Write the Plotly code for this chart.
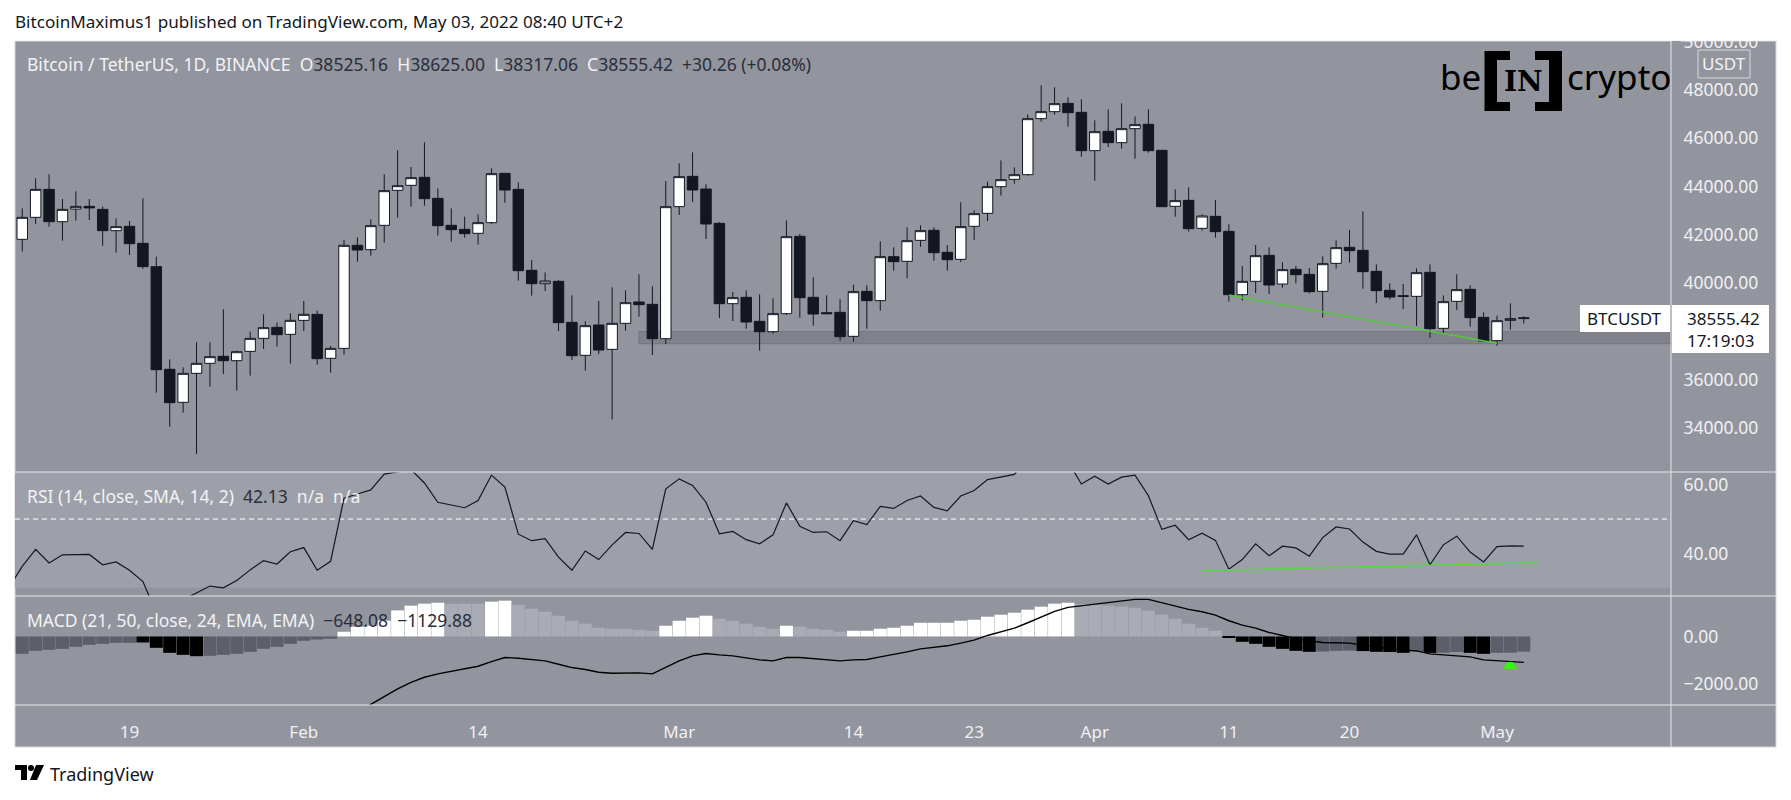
import plotly.graph_objects as go
from plotly.subplots import make_subplots
import pandas as pd

W, H = 1791, 800

dates = pd.date_range("2022-01-11", periods=113, freq="D")

# daily candles
opens = [41810, 42722, 43882, 42542, 43067, 43177, 43053, 42169, 42349, 41644, 40677, 36422, 35054, 36256, 36670, 36960, 36780, 37167, 37706, 38162,
         37872, 38452, 38701, 36878, 37291, 41561, 41382, 42390, 43841, 44048, 44380, 43509, 42390, 42224, 42059, 42501, 44546, 43882, 40525, 39972,
         40069, 38370, 37002, 38259, 37250, 38328, 39212, 39116, 37692, 43164, 44421, 43896, 42473, 39143, 39406, 38411, 37983, 38729, 41934, 39406,
         38770, 38784, 37789, 39654, 39268, 41091, 40898, 41768, 42183, 41271, 40981, 42349, 42888, 43993, 44297, 44490, 46812, 47102, 47447, 47074,
         45485, 46287, 45817, 46397, 46577, 45499, 43178, 43426, 42266, 42763, 42142, 39516, 40069, 41147, 39958, 40566, 40359, 39654, 40815, 41478,
         41354, 40483, 39696, 39472, 39447, 40442, 38121, 39240, 39737, 38577, 37610, 38452, 38525.16]
highs = [43095, 44339, 44504, 43482, 43800, 43482, 43164, 42680, 42570, 43510, 41091, 36836, 36504, 37540, 37540, 38908, 37196, 37983, 38701, 38369,
         38743, 39254, 38853, 37388, 41782, 41893, 42639, 44504, 45499, 44808, 45831, 43924, 43095, 42750, 42846, 44753, 44546, 44173, 40953, 40442,
         40124, 39489, 38411, 39254, 39820, 39696, 40359, 39862, 44228, 44960, 45416, 44090, 42528, 39627, 39696, 39530, 39364, 42597, 42031, 40235,
         39489, 39323, 39931, 39903, 41727, 41478, 42307, 42390, 42307, 41575, 43344, 43012, 44200, 45085, 44794, 46991, 48193, 48110, 47696, 47613,
         46743, 47199, 47447, 46908, 47199, 45499, 43882, 43965, 42846, 43440, 42432, 40705, 41575, 41478, 40856, 40705, 40622, 41105, 41768, 42197,
         42971, 40774, 39986, 39959, 40608, 40774, 39489, 40359, 39903, 38784, 38646, 39157, 38625.00]
lows = [41299, 42446, 42335, 41755, 42584, 42611, 41547, 41257, 41161, 40594, 35454, 34045, 34625, 32912, 35703, 36228, 35537, 36159, 37264, 37361,
        36656, 38010, 36615, 36283, 37029, 40884, 41133, 41672, 42708, 43164, 43205, 41962, 41713, 41879, 41589, 42446, 43330, 40096, 39475, 39668,
        38010, 36808, 36366, 37057, 34349, 38024, 38604, 37015, 37471, 42819, 43357, 41824, 38549, 38425, 38107, 37195, 37900, 38674, 38563, 38231,
        38701, 37609, 37568, 38107, 38853, 40511, 40193, 41506, 40926, 40511, 40870, 41782, 42570, 43620, 44117, 44449, 46687, 46977, 46480, 45237,
        44242, 45637, 45568, 45154, 45402, 43164, 42749, 42128, 42169, 41879, 39226, 39267, 39585, 39544, 39807, 39986, 39572, 38563, 40594, 40843,
        39765, 39170, 39323, 38922, 38218, 37734, 37886, 38881, 38190, 37568, 37402, 38066, 38317.06]
closes = [42722, 43882, 42542, 43053, 43177, 43113, 42169, 42335, 41630, 40677, 36408, 35040, 36256, 36670, 36946, 36780, 37153, 37706, 38148, 37858,
          38452, 38701, 36864, 37291, 41561, 41368, 42376, 43827, 44034, 44366, 43496, 42376, 42211, 42045, 42501, 44532, 43855, 40511, 39972, 40083,
          38356, 36988, 38231, 37223, 38328, 39185, 39102, 37692, 43164, 44408, 43855, 42446, 39143, 39392, 38383, 37983, 38729, 41920, 39392, 38715,
          38729, 37775, 39641, 39268, 41091, 40884, 41754, 42169, 41257, 40967, 42335, 42874, 43993, 44283, 44490, 46812, 47102, 47433, 47060, 45485,
          46273, 45817, 46397, 46563, 45485, 43164, 43413, 42252, 42777, 42128, 39516, 40069, 41133, 39917, 40553, 40345, 39641, 40801, 41465, 41340,
          40470, 39682, 39419, 39447, 40428, 38107, 39226, 39724, 38563, 37596, 38438, 38522, 38555.42]

# rsi starts one day earlier, the line comes in from the left edge
rsi_dates = pd.date_range("2022-01-10", periods=114, freq="D")
rsi = [30.0, 36.2, 41.2, 37.2, 39.6, 39.7, 39.7, 36.7, 37.5, 35.1, 31.8, 22.7, 20.5, 26.5, 28.4, 30.5, 30.0, 32.1, 35.2, 37.9, 36.9,
       40.5, 41.7, 35.1, 37.7, 56.1, 57.3, 58.5, 63.1, 63.7, 64.4, 60.5, 54.9, 54.1, 53.3, 55.4, 62.8, 59.3, 45.6, 43.7, 44.3,
       38.9, 35.1, 40.7, 38.2, 42.5, 46.1, 45.8, 41.2, 58.8, 61.7, 59.8, 54.9, 45.7, 46.4, 44.0, 42.8, 45.4, 54.7, 47.9, 46.1,
       46.3, 43.7, 49.5, 48.4, 53.7, 53.1, 55.4, 56.7, 53.4, 52.4, 56.7, 58.3, 61.5, 62.3, 63.0, 67.8, 68.7, 68.7, 66.8, 60.2,
       62.5, 60.2, 62.2, 62.8, 56.8, 47.0, 48.2, 44.0, 45.9, 43.8, 35.4, 38.2, 42.8, 39.3, 42.1, 41.6, 39.2, 44.6, 47.7, 47.1,
       43.3, 40.6, 39.8, 39.8, 45.4, 36.7, 42.5, 45.0, 40.4, 37.5, 42.0, 42.2, 42.13]

hist = [-737, -610, -567, -525, -440, -355, -312, -269, -269, -255, -482, -695, -780, -837, -822, -780, -737, -652, -525, -440,
        -312, -184, -128, -99, 199, 411, 454, 666, 1106, 1305, 1390, 1432, 1390, 1390, 1390, 1475, 1517, 1347, 1177, 1049,
        879, 666, 539, 369, 326, 326, 284, 241, 454, 666, 794, 879, 752, 666, 539, 411, 326, 454, 411, 326,
        284, 199, 241, 241, 326, 369, 454, 581, 581, 581, 666, 709, 837, 922, 1007, 1134, 1262, 1390, 1432, 1375,
        1347, 1305, 1262, 1219, 1092, 922, 752, 539, 369, 241, -57, -227, -312, -440, -525, -610, -652, -640, -610, -600,
        -620, -652, -660, -695, -652, -695, -690, -660, -695, -737, -695, -690, -648.08]
# k falling below zero, d rising below zero, w rising above zero, l falling above zero
hist_kind = list("ddddddddd" + "kkkkk" + "dddddddddd" + "wwwwwwww" + "lll" + "ww" + "lllllllllll" + "wwww" + "lllll" + "w" + "llll"
                 + "wwwwwwwwwwwwwwwww" + "lllllllllll" + "kkkkkkk" + "ddd" + "kkkk" + "d" + "k" + "dd" + "kk" + "ddd")

# first visible point of the MACD line is at index 25, earlier ones fall below the pane
macd = [None] * 25 + [-3261, -2879, -2552, -2226, -1943, -1730, -1588, -1475, -1361, -1262, -1064, -893, -922, -993, -1035, -1177, -1319, -1404, -1517,
                      -1560, -1546, -1546, -1588, -1319, -1035, -822, -723, -780, -822, -908, -993, -1035, -893, -893, -936, -964, -1035, -993, -978,
                      -865, -766, -652, -525, -454, -397, -284, -156, 43, 184, 354, 581, 837, 1064, 1234, 1305, 1390, 1432, 1517, 1574,
                      1574, 1432, 1305, 1149, 1049, 908, 666, 482, 354, 170, 43, -99, -184, -255, -269, -284, -369, -454, -525, -567,
                      -610, -737, -780, -808, -865, -993, -1035, -1064, -1100]

# 38000 sits behind the last price box in the reference
price_ticks = [34000, 36000, 40000, 42000, 44000, 46000, 48000, 50000]
rsi_ticks = [40, 60]
macd_ticks = [-2000, 0]
x_tick_dates = ["2022-01-19", "2022-02-01", "2022-02-14", "2022-03-01", "2022-03-14", "2022-03-23", "2022-04-01", "2022-04-11", "2022-04-20", "2022-05-01"]
x_tick_text = ["19", "Feb", "14", "Mar", "14", "23", "Apr", "11", "20", "May"]

# green trendlines
support_x = ["2022-04-11", "2022-05-01"]
support_y = [39503, 37499]
rsi_trend_x = ["2022-04-09", "2022-05-04"]
rsi_trend_y = [35.0, 37.3]
zone_low, zone_high = 37485, 37983

BG = "#93959e"
BAND = "#9ea0a9"
DARK = "#131722"
SEP = "#e6e7ea"
FONT = "Noto Sans"
kind_colors = {"k": "#000000", "d": "#5c5e69", "w": "#ffffff", "l": "#a9abb5"}


def px(x):
    return x / W


def py(y):
    return 1 - y / H


fig = make_subplots(rows=3, cols=1, shared_xaxes=True)

fig.add_trace(go.Candlestick(x=dates, open=opens, high=highs, low=lows, close=closes,
                             increasing=dict(fillcolor="#ffffff", line=dict(color=DARK, width=1)),
                             decreasing=dict(fillcolor=DARK, line=dict(color=DARK, width=1)),
                             whiskerwidth=0), row=1, col=1)
fig.add_trace(go.Scatter(x=support_x, y=support_y, mode="lines", line=dict(color="#55c83c", width=1.5)), row=1, col=1)

fig.add_trace(go.Scatter(x=rsi_dates, y=rsi, mode="lines", line=dict(color=DARK, width=1.2)), row=2, col=1)
fig.add_trace(go.Scatter(x=rsi_trend_x, y=rsi_trend_y, mode="lines", line=dict(color="#55d83c", width=1.5)), row=2, col=1)

fig.add_trace(go.Bar(x=dates, y=hist, marker=dict(color=[kind_colors[k] for k in hist_kind], line=dict(width=0))), row=3, col=1)
fig.add_trace(go.Scatter(x=dates, y=macd, mode="lines", line=dict(color="#000000", width=1.4)), row=3, col=1)

xr = ["2022-01-10 11:02", "2022-05-13 23:30"]
xdom = [px(15), px(1671)]
fig.update_xaxes(range=xr, domain=xdom, showgrid=False, zeroline=False, showline=False, rangeslider_visible=False, fixedrange=True, automargin=False)
fig.update_xaxes(row=3, col=1, tickmode="array", tickvals=x_tick_dates, ticktext=x_tick_text, ticks="outside", ticklen=12,
                 tickcolor=BG, tickfont=dict(family=FONT, size=17, color="#f0f0f2"), showticklabels=True)
fig.update_xaxes(row=1, col=1, showticklabels=False)
fig.update_xaxes(row=2, col=1, showticklabels=False)

yopts = dict(side="right", showgrid=False, zeroline=False, showline=False, ticks="outside", ticklen=8, tickcolor=BG,
             tickfont=dict(family=FONT, size=17.5, color="#f0f0f2"), tickformat=".2f", fixedrange=True, automargin=False)
fig.update_yaxes(row=1, col=1, range=[32166, 50031], domain=[py(472), py(41)], tickvals=price_ticks, **yopts)
fig.update_yaxes(row=2, col=1, range=[27.6, 63.7], domain=[py(596), py(472)], tickvals=rsi_ticks, **yopts)
fig.update_yaxes(row=3, col=1, range=[-2907, 1716], domain=[py(705), py(596)], tickvals=macd_ticks, **yopts)

shapes = []
# chart frame behind everything
shapes.append(dict(type="rect", xref="paper", yref="paper", x0=px(15), x1=px(1776), y0=py(747), y1=py(41), layer="below",
                   fillcolor=BG, line=dict(color="#d4d5da", width=1)))
# rsi band
shapes.append(dict(type="rect", xref="x2", yref="y2", x0=xr[0], x1=xr[1], y0=30, y1=70, layer="below", fillcolor=BAND, line=dict(width=0)))
shapes.append(dict(type="line", xref="x2", yref="y2", x0=xr[0], x1=xr[1], y0=50, y1=50, layer="below", line=dict(color="#ffffff", width=1, dash="5px,4px")))
# support zone
shapes.append(dict(type="rect", xref="x", yref="y", x0="2022-02-26", x1=xr[1], y0=zone_low, y1=zone_high, layer="below",
                   fillcolor="#80828b", line=dict(color="#74767e", width=1)))
# pane separators
for y in (472, 596, 705):
    shapes.append(dict(type="line", xref="paper", yref="paper", x0=px(15), x1=px(1776), y0=py(y), y1=py(y), line=dict(color=SEP, width=1)))
shapes.append(dict(type="line", xref="paper", yref="paper", x0=px(1671), x1=px(1671), y0=py(747), y1=py(41), line=dict(color=SEP, width=1)))
# cuts the top tick label at the frame
shapes.append(dict(type="rect", xref="paper", yref="paper", x0=0, x1=1, y0=py(40.5), y1=1, fillcolor="#ffffff", line=dict(width=0)))
# last price boxes
shapes.append(dict(type="rect", xref="paper", yref="paper", x0=px(1580), x1=px(1670), y0=py(332), y1=py(305), fillcolor="#ffffff", line=dict(width=0)))
shapes.append(dict(type="rect", xref="paper", yref="paper", x0=px(1672), x1=px(1769), y0=py(353), y1=py(305), fillcolor="#ffffff", line=dict(width=0)))
# currency box
shapes.append(dict(type="rect", xref="paper", yref="paper", x0=px(1698), x1=px(1750), y0=py(78), y1=py(50), fillcolor=BG, line=dict(color="#d8d9dd", width=1)))


def poly(points, color="#000000"):
    path = "M " + " L ".join(f"{px(a)},{py(b)}" for a, b in points) + " Z"
    return dict(type="path", xref="paper", yref="paper", path=path, fillcolor=color, line=dict(width=0))


# logo brackets
shapes.append(poly([(1484.5, 51), (1510, 51), (1510, 60), (1497, 60), (1497, 102), (1510, 102), (1510, 111), (1484.5, 111)]))
shapes.append(poly([(1535, 51), (1562, 51), (1562, 111), (1535, 111), (1535, 102), (1549, 102), (1549, 60), (1535, 60)]))
# tradingview mark
shapes.append(poly([(15, 765), (27, 765), (27, 780), (21, 780), (21, 770), (15, 770)]))
shapes.append(poly([(36, 765), (44, 765), (37, 780), (30, 780)]))
shapes.append(dict(type="circle", xref="paper", yref="paper", x0=px(28), x1=px(34), y0=py(771), y1=py(765), fillcolor="#000000", line=dict(width=0)))
# green blob on the macd pane
shapes.append(poly([(1503, 669), (1507, 662), (1513, 662), (1517, 669)], "#33f01e"))
fig.update_layout(shapes=shapes)


def label(x, y, text, size=17.5, color="#f2f2f4", family=FONT, anchor="left", **kw):
    fig.add_annotation(xref="paper", yref="paper", x=px(x), y=py(y), text=text, showarrow=False, xanchor=anchor, yanchor="middle",
                       font=dict(family=family, size=size, color=color), **kw)


def dark(s):
    return f'<span style="color:#2a2e39">{s}</span>'


label(13, 22, "BitcoinMaximus1 published on TradingView.com, May 03, 2022 08:40 UTC+2", size=17.1, color="#131722")
label(25, 64, "Bitcoin / TetherUS, 1D, BINANCE  O" + dark("38525.16") + "  H" + dark("38625.00") + "  L" + dark("38317.06")
      + "  C" + dark("38555.42  +30.26 (+0.08%)"))
label(25, 496, "RSI (14, close, SMA, 14, 2)  " + dark("42.13") + "  n/a  n/a")
label(25, 620, "MACD (21, 50, close, 24, EMA, EMA)  " + dark("−648.08") + "  " + dark("−1129.88"))
label(1724, 64, "USDT", anchor="center", size=17)
label(1585, 319, "BTCUSDT", color="#131722", size=17)
label(1685, 319, "38555.42", color="#131722", size=17)
label(1685, 340, "17:19:03", color="#131722", size=17)
label(1438, 77, "be", size=35, color="#000000")
label(1523, 81, "<b>IN</b>", size=28, color="#000000", family="DejaVu Serif", anchor="center")
label(1565, 77, "crypto", size=35, color="#000000")
label(48, 774, "TradingView", size=18, color="#131722")

fig.update_layout(width=W, height=H, margin=dict(l=0, r=0, t=0, b=0), paper_bgcolor="#ffffff", plot_bgcolor=BG, showlegend=False,
                  bargap=0.03, boxgap=0.22, boxgroupgap=0, hovermode=False)

fig.write_html("out.html", config=dict(displayModeBar=False), post_script="document.body.style.margin='0';")
